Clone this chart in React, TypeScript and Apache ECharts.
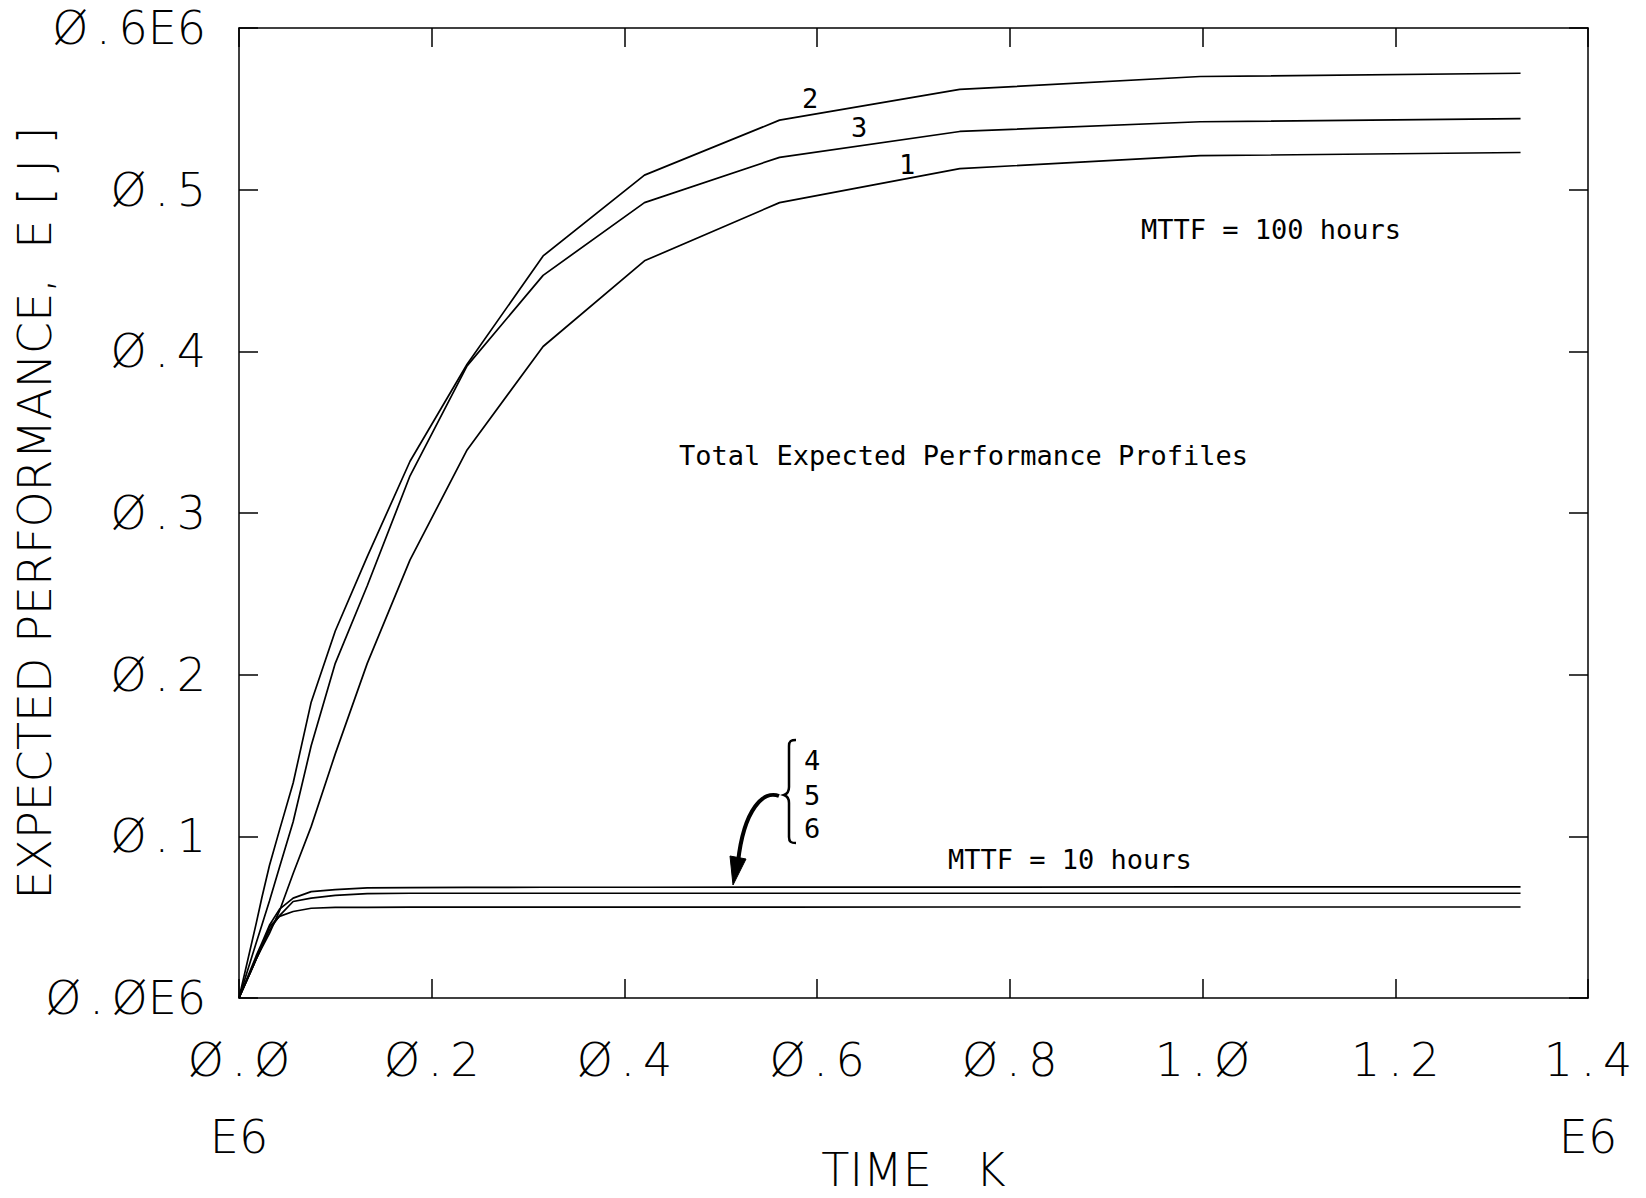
import React, { useEffect, useRef } from "react";
import * as echarts from "echarts";

// Time axis (E6), shared sample points of all profiles
const timeE6 = [0, 0.0178, 0.0237, 0.0316, 0.0421, 0.0562, 0.0749, 0.0999, 0.1331, 0.1775, 0.2367, 0.3156, 0.4208, 0.561, 0.748, 0.9975, 1.33];

// MTTF = 100 hours
const profile1 = [0, 0.024, 0.031, 0.04, 0.054, 0.077, 0.106, 0.151, 0.207, 0.271, 0.339, 0.403, 0.456, 0.492, 0.513, 0.521, 0.523];
const profile2 = [0, 0.046, 0.062, 0.082, 0.104, 0.133, 0.183, 0.227, 0.273, 0.332, 0.392, 0.459, 0.509, 0.543, 0.562, 0.57, 0.572];
const profile3 = [0, 0.034, 0.045, 0.06, 0.081, 0.109, 0.156, 0.207, 0.255, 0.323, 0.391, 0.447, 0.492, 0.52, 0.536, 0.542, 0.544];
// MTTF = 10 hours
const profile4 = [0, 0.026, 0.034, 0.045, 0.055, 0.0618, 0.0658, 0.067, 0.0681, 0.0683, 0.0684, 0.0685, 0.0685, 0.0686, 0.0686, 0.0687, 0.0687];
const profile5 = [0, 0.024, 0.032, 0.042, 0.051, 0.0597, 0.0618, 0.0635, 0.0646, 0.0648, 0.0648, 0.0648, 0.0648, 0.0648, 0.0648, 0.0648, 0.0648];
const profile6 = [0, 0.024, 0.032, 0.044, 0.0505, 0.0535, 0.0555, 0.056, 0.0561, 0.0562, 0.0562, 0.0562, 0.0562, 0.0562, 0.0563, 0.0563, 0.0563];

const profiles = [profile1, profile2, profile3, profile4, profile5, profile6];
const profileNames = ["1", "2", "3", "4", "5", "6"];

const xTickLabels = ["Ø.Ø", "Ø.2", "Ø.4", "Ø.6", "Ø.8", "1.Ø", "1.2", "1.4"];
const yTickLabels = ["Ø.ØE6", "Ø.1", "Ø.2", "Ø.3", "Ø.4", "Ø.5", "Ø.6E6"];

const TICK_FONT = "'DejaVu Sans', 'Liberation Sans', sans-serif";
const NOTE_FONT = "'DejaVu Sans Mono', 'Liberation Mono', monospace";

const spaced = (s: string) => s.replace(".", "\u2006.\u2006");

const bracePath = "M12,0 C7,0 5,1 5,6 L5,47 C5,52 3,54 0,55 C3,56 5,58 5,63 L5,97 C5,102 7,103 12,103";

export default function App() {
  const ref = useRef<HTMLDivElement>(null);
  useEffect(() => {
    if (!ref.current) return;
    echarts.graphic.registerShape("brace", echarts.graphic.extendPath(bracePath, {}));
    const chart = echarts.init(ref.current, null, { renderer: "svg" });
    const axisLine = { show: true, onZero: false, lineStyle: { color: "#000", width: 1.5 } };
    const tick = (len: number) => ({ show: true, inside: true, length: len, lineStyle: { color: "#000", width: 1.5 } });
    const noteText = (text: string, x: number, y: number, align = "left") => ({
      type: "text",
      x,
      y,
      silent: true,
      style: {
        text,
        fontSize: 27,
        fontFamily: NOTE_FONT,
        fill: "#000",
        align,
        textAlign: align,
        verticalAlign: "middle",
        textVerticalAlign: "middle",
      },
    });
    const bigText = (text: string, x: number, y: number) => ({
      type: "text",
      x,
      y,
      silent: true,
      style: {
        text,
        fontSize: 46,
        fontFamily: TICK_FONT,
        fontWeight: 200,
        fill: "#000",
        align: "center",
        textAlign: "center",
        verticalAlign: "middle",
        textVerticalAlign: "middle",
      },
    });
    const option: any = {
      animation: false,
      backgroundColor: "#fff",
      grid: { left: 239, right: 58, top: 28, bottom: 200, containLabel: false, outerBoundsMode: "none" },
      xAxis: [
        {
          type: "value",
          position: "bottom",
          min: 0,
          max: 1.4,
          interval: 0.2,
          axisLine,
          axisTick: tick(19),
          splitLine: { show: false },
          axisLabel: {
            margin: 39,
            fontSize: 46,
            fontFamily: TICK_FONT,
            fontWeight: 200,
            color: "#000",
            formatter: (v: number) => spaced(xTickLabels[Math.round(v * 5)] ?? ""),
          },
          name: "TIME   K",
          nameLocation: "middle",
          nameGap: 152,
          nameMoveOverlap: false,
          nameTextStyle: { fontSize: 46, lineHeight: 40, fontFamily: TICK_FONT, fontWeight: 200, color: "#000" },
        },
        {
          type: "value",
          position: "top",
          min: 0,
          max: 1.4,
          interval: 0.2,
          axisLine,
          axisTick: tick(19),
          splitLine: { show: false },
          axisLabel: { show: false },
        },
      ],
      yAxis: [
        {
          type: "value",
          position: "left",
          min: 0,
          max: 0.6,
          interval: 0.1,
          axisLine,
          axisTick: tick(19),
          splitLine: { show: false },
          axisLabel: {
            margin: 33,
            fontSize: 46,
            fontFamily: TICK_FONT,
            fontWeight: 200,
            color: "#000",
            formatter: (v: number) => spaced(yTickLabels[Math.round(v * 10)] ?? ""),
          },
          name: "EXPECTED PERFORMANCE,  E [ J ]",
          nameLocation: "middle",
          nameGap: 183,
          nameMoveOverlap: false,
          nameTextStyle: { fontSize: 46, lineHeight: 42, fontFamily: TICK_FONT, fontWeight: 200, color: "#000" },
        },
        {
          type: "value",
          position: "right",
          min: 0,
          max: 0.6,
          interval: 0.1,
          axisLine,
          axisTick: tick(19),
          splitLine: { show: false },
          axisLabel: { show: false },
        },
      ],
      series: profiles.map((vals, i) => ({
        name: profileNames[i],
        type: "line",
        xAxisIndex: 0,
        yAxisIndex: 0,
        data: timeE6.map((t, j) => [t, vals[j]]),
        showSymbol: false,
        symbol: "none",
        silent: true,
        lineStyle: { color: "#000", width: 1.7 },
      })),
      graphic: [
        bigText("E6", 239, 1137),
        bigText("E6", 1588, 1137),
        noteText("MTTF = 100 hours", 1141, 229),
        noteText("Total Expected Performance Profiles", 679, 455),
        noteText("MTTF = 10 hours", 948, 859),
        noteText("2", 810, 98, "center"),
        noteText("3", 859, 127, "center"),
        noteText("1", 907, 164, "center"),
        noteText("4", 812, 760, "center"),
        noteText("5", 812, 795, "center"),
        noteText("6", 812, 828, "center"),
        {
          type: "brace",
          x: 784,
          y: 740,
          silent: true,
          style: { stroke: "#000", fill: null, lineWidth: 2.5 },
        },
        {
          type: "bezierCurve",
          silent: true,
          shape: { x1: 779, y1: 796, cpx1: 764, cpy1: 790, cpx2: 744, cpy2: 808, x2: 738, y2: 862 },
          style: { stroke: "#000", lineWidth: 4, fill: null },
        },
        {
          type: "polygon",
          silent: true,
          shape: { points: [[730, 856], [746, 859], [733, 885]] },
          style: { fill: "#000", stroke: "#000", lineWidth: 1 },
        },
      ],
    };
    chart.setOption(option);
    return () => chart.dispose();
  }, []);
  return (
    <div
      ref={ref}
      style={{ position: "fixed", left: 0, top: 0, width: 1646, height: 1198, background: "#fff" }}
    />
  );
}
